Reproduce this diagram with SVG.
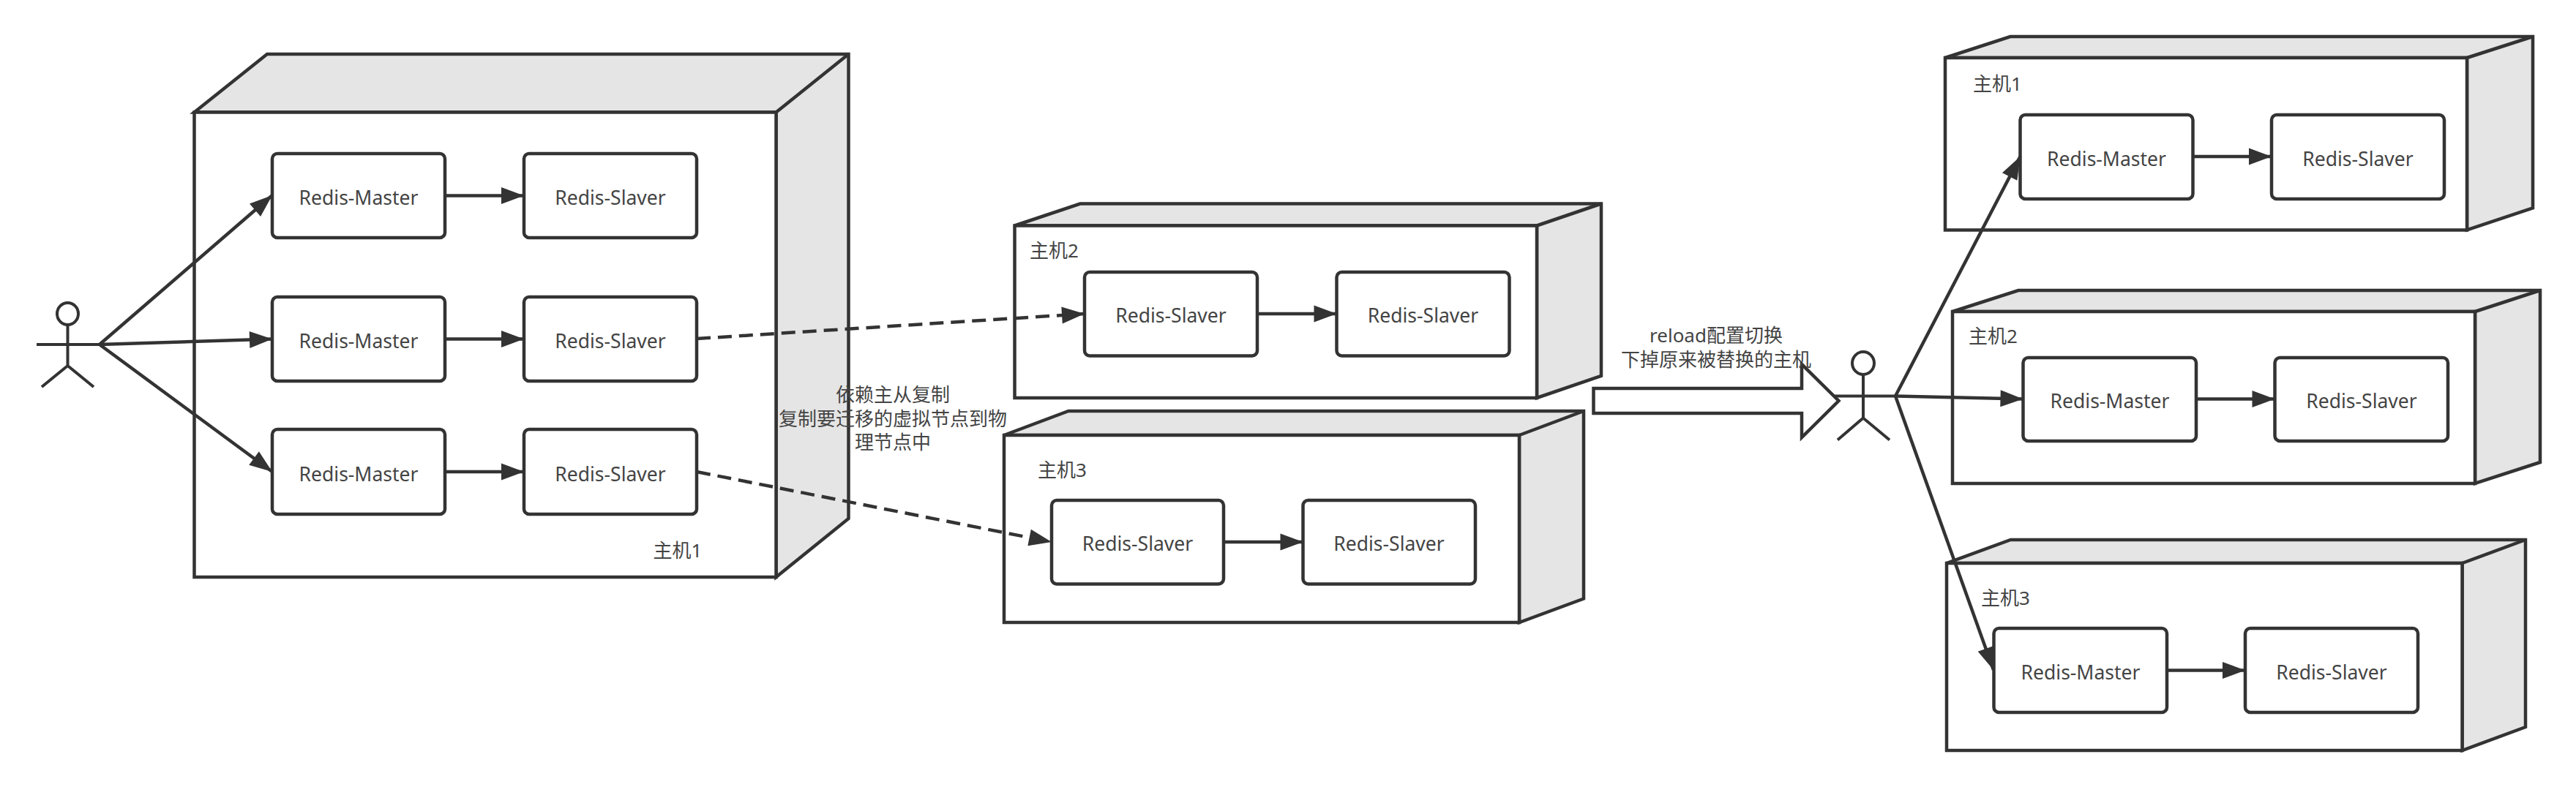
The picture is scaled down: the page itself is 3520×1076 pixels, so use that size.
<svg xmlns="http://www.w3.org/2000/svg" width="3520" height="1076" viewBox="0 0 3520 1076">
<style>
text{font-family:"Noto Sans","Noto Sans CJK SC",sans-serif;font-size:26.500px;fill:#444;text-anchor:middle;dominant-baseline:central}
#labels text{font-size:26px}
.l{text-anchor:start}
.front{fill:#fff;stroke:#333;stroke-width:4.5;stroke-linejoin:miter}
.face{fill:#e5e5e5;stroke:#333;stroke-width:4.5;stroke-linejoin:miter}
.box{fill:#fff;stroke:#333;stroke-width:4.5}
.actor{fill:none;stroke:#333;stroke-width:4}
.c{fill:none;stroke:#333;stroke-width:4.500;marker-end:url(#a)}
.d{stroke-dasharray:19 10}
</style>
<defs>
<marker id="a" markerUnits="userSpaceOnUse" markerWidth="34" markerHeight="26" refX="32" refY="13" orient="auto"><path d="M1,1.500 L32,13 L1,24.500 Z" fill="#333"/></marker>
</defs>
<rect width="3520" height="1076" fill="#fff"/>
<g id="host1"><path class="face" d="M265.500,153.500 L365,74 H1159.500 V709 L1060.500,789 V153.500 Z"/><path class="face" d="M1060.500,153.500 L1159.500,74"/><rect class="front" x="265.500" y="153.500" width="795" height="635.500"/></g>
<g id="host2"><path class="face" d="M1386.500,308.500 L1476,278.500 H2188 V514 L2100,544 V308.500 Z"/><path class="face" d="M2100,308.500 L2188,278.500"/><rect class="front" x="1386.500" y="308.500" width="713.500" height="235.500"/></g>
<g id="host3"><path class="face" d="M1372,595 L1460,562 H2164 V818.500 L2076,851 V595 Z"/><path class="face" d="M2076,595 L2164,562"/><rect class="front" x="1372" y="595" width="704" height="256"/></g>
<g id="host-r1"><path class="face" d="M2658,79 L2747,50 H3461 V284.500 L3371,314.500 V79 Z"/><path class="face" d="M3371,79 L3461,50"/><rect class="front" x="2658" y="79" width="713" height="235.500"/></g>
<g id="host-r2"><path class="face" d="M2668,426 L2758,397 H3471 V632 L3382,661 V426 Z"/><path class="face" d="M3382,426 L3471,397"/><rect class="front" x="2668" y="426" width="714" height="235"/></g>
<g id="host-r3"><path class="face" d="M2660,770 L2747.500,738 H3451 V994 L3364.500,1026 V770 Z"/><path class="face" d="M3364.500,770 L3451,738"/><rect class="front" x="2660" y="770" width="704.500" height="256"/></g>

<g id="m1"><rect class="box" x="372" y="210" width="236" height="115" rx="7"/><text x="490" y="270">Redis-Master</text></g>
<g id="s1"><rect class="box" x="716" y="210" width="236" height="115" rx="7"/><text x="834" y="270">Redis-Slaver</text></g>
<g id="m2"><rect class="box" x="372" y="406" width="236" height="115" rx="7"/><text x="490" y="466">Redis-Master</text></g>
<g id="s2"><rect class="box" x="716" y="406" width="236" height="115" rx="7"/><text x="834" y="466">Redis-Slaver</text></g>
<g id="m3"><rect class="box" x="372" y="587" width="236" height="116" rx="7"/><text x="490" y="648">Redis-Master</text></g>
<g id="s3"><rect class="box" x="716" y="587" width="236" height="116" rx="7"/><text x="834" y="648">Redis-Slaver</text></g>
<g id="h2a"><rect class="box" x="1482" y="372" width="236" height="114.500" rx="7"/><text x="1600" y="431">Redis-Slaver</text></g>
<g id="h2b"><rect class="box" x="1826.500" y="372" width="236" height="114.500" rx="7"/><text x="1944.500" y="431">Redis-Slaver</text></g>
<g id="h3a"><rect class="box" x="1437" y="684" width="235" height="114.500" rx="7"/><text x="1554.500" y="743">Redis-Slaver</text></g>
<g id="h3b"><rect class="box" x="1780.500" y="684" width="235.500" height="114.500" rx="7"/><text x="1898" y="743">Redis-Slaver</text></g>
<g id="r1m"><rect class="box" x="2760.500" y="157" width="236" height="115" rx="7"/><text x="2878.500" y="217">Redis-Master</text></g>
<g id="r1s"><rect class="box" x="3104" y="157" width="236" height="115" rx="7"/><text x="3222" y="217">Redis-Slaver</text></g>
<g id="r2m"><rect class="box" x="2764.500" y="489" width="236.500" height="114" rx="7"/><text x="2883" y="548">Redis-Master</text></g>
<g id="r2s"><rect class="box" x="3108.500" y="489" width="236.500" height="114" rx="7"/><text x="3227" y="548">Redis-Slaver</text></g>
<g id="r3m"><rect class="box" x="2724.500" y="859" width="236.500" height="115" rx="7"/><text x="2843" y="919">Redis-Master</text></g>
<g id="r3s"><rect class="box" x="3068" y="859" width="236" height="115" rx="7"/><text x="3186" y="919">Redis-Slaver</text></g>

<g id="actor1"><ellipse class="actor" cx="92.500" cy="429" rx="14.500" ry="15"/><path class="actor" d="M92.500,444 V500 M50,471 H136 M57,529 L92.500,500 L128,529"/></g>
<g id="actor2"><ellipse class="actor" cx="2546" cy="496.500" rx="15" ry="15.500"/><path class="actor" d="M2546,512 V571.500 M2506,541.500 H2590 M2511,601.500 L2546,571.500 L2582,601.500"/></g>
<g id="big-arrow"><path fill="#fff" stroke="#333" stroke-width="4.500" d="M2177.500,531 H2462 V498 L2512.500,548 L2462,598 V565 H2177.500 Z"/></g>

<g id="connectors">
<path class="c" d="M136,471 L372,267"/>
<path class="c" d="M136,471 L372,463.500"/>
<path class="c" d="M136,471 L372,645"/>
<path class="c" d="M608,267.500 H716"/>
<path class="c" d="M608,463.500 H716"/>
<path class="c" d="M608,645 H716"/>
<path class="c d" d="M952,463 L1482,429"/>
<path class="c d" d="M952,645 L1437,741"/>
<path class="c" d="M1718,429 H1826.500"/>
<path class="c" d="M1672,741 H1780.500"/>
<path class="c" d="M2590,541.500 L2760.500,214"/>
<path class="c" d="M2590,541.500 L2764.500,545.500"/>
<path class="c" d="M2590,541.500 L2724,916"/>
<path class="c" d="M2996.500,214 H3104"/>
<path class="c" d="M3001,545.500 H3108.500"/>
<path class="c" d="M2961,916.500 H3068"/>
</g>

<g id="labels">
<text x="926" y="752">主机1</text>
<text class="l" x="1407" y="342">主机2</text>
<text class="l" x="1418" y="642">主机3</text>
<text class="l" x="2696" y="114">主机1</text>
<text class="l" x="2690" y="459">主机2</text>
<text class="l" x="2707" y="817">主机3</text>
<text x="1220" y="539">依赖主从复制</text>
<text x="1220" y="572">复制要迁移的虚拟节点到物</text>
<text x="1220" y="604">理节点中</text>
<text x="2345" y="458">reload配置切换</text>
<text x="2345" y="490.500">下掉原来被替换的主机</text>
</g>
</svg>
